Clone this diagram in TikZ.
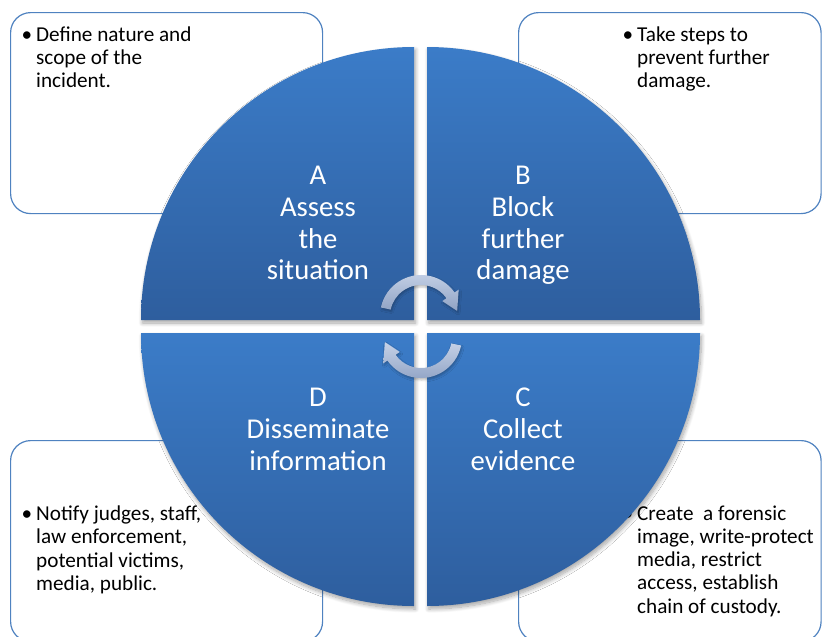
\documentclass[tikz,border=0pt]{standalone}
\usepackage{fontspec}
\setmainfont{Carlito}
\usetikzlibrary{shadows.blur}
\definecolor{boxline}{HTML}{4F82C0}
\definecolor{qtop}{HTML}{3B7CC8}
\definecolor{qbot}{HTML}{2E5E9E}
\definecolor{artop}{HTML}{C6D2E7}
\definecolor{arbot}{HTML}{8FA2C4}
\begin{document}
\begin{tikzpicture}[x=1pt,y=1pt,
  infobox/.style={draw=boxline, line width=1.2pt, rounded corners=20pt, fill=white, anchor=north west, inner sep=0pt},
  quad/.style={top color=qtop, bottom color=qbot, blur shadow={shadow xshift=1.5pt, shadow yshift=-3pt, shadow blur radius=4pt, shadow blur steps=10, shadow opacity=35}},
  cyc/.style={top color=artop, bottom color=arbot, blur shadow={shadow xshift=1pt, shadow yshift=-2pt, shadow blur radius=2pt, shadow opacity=25}},
  qlabel/.style={text=white, font=\fontsize{28.7}{32}\selectfont, anchor=base, inner sep=0pt},
  btext/.style={font=\fontsize{21.2}{23.3}\selectfont, anchor=base west, inner sep=0pt, align=left},
]
\useasboundingbox (0,0) rectangle (822,-637);
% text boxes
\node[infobox, minimum width=312pt, minimum height=201pt] (boxA) at (10,-12) {};
\node[infobox, minimum width=302.5pt, minimum height=201pt] (boxB) at (518,-12) {};
\node[infobox, minimum width=312pt, minimum height=201pt] (boxD) at (10,-440) {};
\node[infobox, minimum width=302.5pt, minimum height=201pt] (boxC) at (518,-440) {};
% box texts (anchored at the baseline of the last line)
\node[btext] (tA) at (36,-87.6) {\llap{•\hspace{4pt}}Define nature and\\scope of the\\incident.};
\node[btext] (tB) at (637,-87.6) {\llap{•\hspace{4pt}}Take steps to\\prevent further\\damage.};
\node[btext] (tD) at (36,-590.4) {\llap{•\hspace{4pt}}Notify judges, staff,\\law enforcement,\\potential victims,\\media, public.};
\node[btext] (tC) at (637,-613.2) {\llap{•\hspace{4pt}}Create\ \ a forensic\\image, write-protect\\media, restrict\\access, establish\\chain of custody.};
% quadrants
\path[quad] (414,-320) -- (414,-47) arc[start angle=90, end angle=180, radius=273] -- cycle;
\path[quad] (427,-320) -- (700,-320) arc[start angle=0, end angle=90, radius=273] -- cycle;
\path[quad] (427,-333) -- (427,-606) arc[start angle=-90, end angle=0, radius=273] -- cycle;
\path[quad] (414,-333) -- (141,-333) arc[start angle=180, end angle=270, radius=273] -- cycle;
% cycle arrows
\begin{scope}[shift={(421,-316)}]
\path[cyc] (168:41) arc[start angle=168, end angle=35, radius=41] -- (35:46) -- (8:36.5) -- (35:26) -- (35:31) arc[start angle=35, end angle=168, radius=31] -- cycle;
\end{scope}
\begin{scope}[shift={(421,-337)}]
\path[cyc] (-12:41) arc[start angle=-12, end angle=-145, radius=41] -- (-145:46) -- (-172:36.5) -- (-145:26) -- (-145:31) arc[start angle=-145, end angle=-12, radius=31] -- cycle;
\end{scope}
% quadrant labels
\node[qlabel] (a1) at (318,-184) {A};
\node[qlabel] (a2) at (318,-216) {Assess};
\node[qlabel] (a3) at (318,-248) {the};
\node[qlabel] (a4) at (318,-279) {situation};
\node[qlabel] (b1) at (523,-184) {B};
\node[qlabel] (b2) at (523,-216) {Block};
\node[qlabel] (b3) at (523,-248) {further};
\node[qlabel] (b4) at (523,-279) {damage};
\node[qlabel] (d1) at (318,-406) {D};
\node[qlabel] (d2) at (318,-438) {Disseminate};
\node[qlabel] (d3) at (318,-470) {information};
\node[qlabel] (c1) at (523,-406) {C};
\node[qlabel] (c2) at (523,-438) {Collect};
\node[qlabel] (c3) at (523,-470) {evidence};
\end{tikzpicture}
\end{document}
